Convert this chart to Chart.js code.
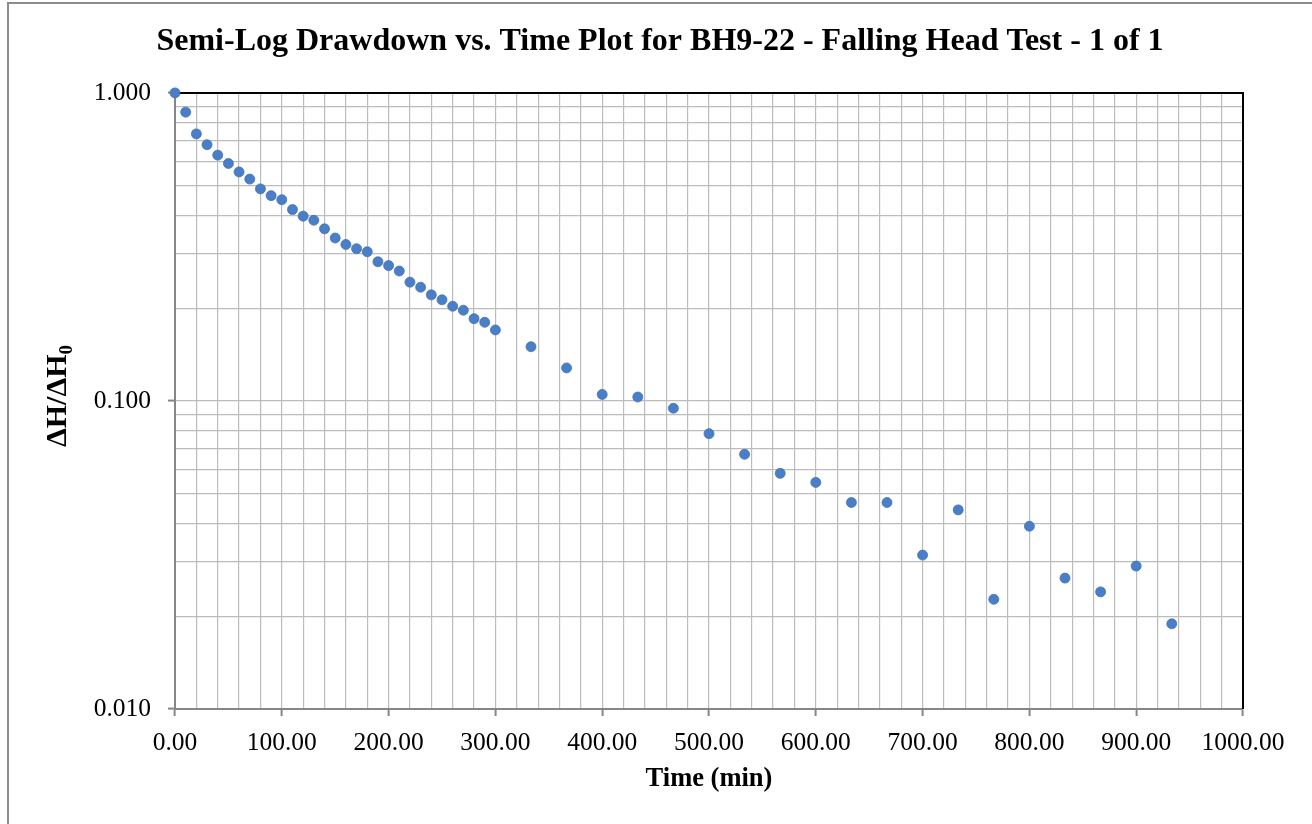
<!DOCTYPE html>
<html>
<head>
<meta charset="utf-8">
<script src="https://cdn.jsdelivr.net/npm/chart.js@4/dist/chart.umd.min.js"></script>
<style>
  html, body { margin: 0; padding: 0; background: #fff; }
  #wrap { width: 1312px; height: 824px; position: relative; }
</style>
</head>
<body>
<div id="wrap"><canvas id="drawdownChart"></canvas></div>
<script>
// falling head test readings: elapsed time (min) and normalised head ratio
const timeMin = [
    0, 10, 20, 30, 40, 50, 60, 70, 80, 90,
    100, 110, 120, 130, 140, 150, 160, 170, 180, 190,
    200, 210, 220, 230, 240, 250, 260, 270, 280, 290,
    300, 333.33, 366.67, 400, 433.33, 466.67, 500, 533.33, 566.67, 600,
    633.33, 666.67, 700, 733.33, 766.67, 800, 833.33, 866.67, 900, 933.33
];
const headRatio = [
    1.000, 0.866, 0.736, 0.679, 0.628, 0.590, 0.554, 0.525, 0.488, 0.464,
    0.450, 0.418, 0.398, 0.386, 0.362, 0.338, 0.322, 0.312, 0.305, 0.283,
    0.275, 0.264, 0.243, 0.234, 0.221, 0.213, 0.203, 0.197, 0.185, 0.180,
    0.170, 0.150, 0.128, 0.105, 0.103, 0.0947, 0.0783, 0.0671, 0.0582, 0.0544,
    0.0468, 0.0468, 0.0316, 0.0443, 0.0227, 0.0392, 0.0266, 0.0240, 0.0291, 0.0189
];
const yLabelTicks = [0.01, 0.1, 1];
const xMajorStep = 100;

const serif = "'Liberation Serif', 'Times New Roman', serif";
const gridGray = '#bcbcbc';
const axisGray = '#868686';

function isLabelTick(v) {
    return yLabelTicks.some(t => Math.abs(t - v) / t < 1e-6);
}

// outer frame, black top/right edges of the plot and the rotated y title
const decorPlugin = {
    id: 'decor',
    beforeDraw(chart) {
        const c = chart.ctx;
        c.save();
        c.strokeStyle = '#8c8c8c';
        c.lineWidth = 2;
        c.beginPath();
        c.moveTo(8, chart.height);
        c.lineTo(8, 3);
        c.lineTo(chart.width, 3);
        c.stroke();
        c.restore();
    },
    beforeDatasetsDraw(chart) {
        const a = chart.chartArea;
        const c = chart.ctx;
        c.save();
        c.strokeStyle = '#000';
        c.lineWidth = 2;
        c.beginPath();
        c.moveTo(a.left, a.top);
        c.lineTo(a.right, a.top);
        c.lineTo(a.right, a.bottom);
        c.stroke();
        c.restore();
    },
    afterDraw(chart) {
        const c = chart.ctx;
        c.save();
        // y axis title with subscript
        c.translate(58, 396);
        c.rotate(-Math.PI / 2);
        c.fillStyle = '#000';
        c.textBaseline = 'middle';
        c.textAlign = 'left';
        const main = '\u0394H/\u0394H';
        c.font = 'bold 30px ' + serif;
        const wMain = c.measureText(main).width;
        c.font = 'bold 19px ' + serif;
        const wSub = c.measureText('0').width;
        const x0 = -(wMain + wSub) / 2;
        c.font = 'bold 30px ' + serif;
        c.fillText(main, x0, 0);
        c.font = 'bold 19px ' + serif;
        c.fillText('0', x0 + wMain, 9);
        c.restore();
    }
};

const ctx = document.getElementById('drawdownChart');
new Chart(ctx, {
    type: 'scatter',
    data: {
        datasets: [{
            label: 'BH9-22',
            data: timeMin.map((t, i) => ({ x: t, y: headRatio[i] })),
            backgroundColor: '#4a7fc8',
            borderColor: '#3f70b4',
            borderWidth: 0.75,
            pointRadius: 5,
            pointHoverRadius: 5,
            clip: false
        }]
    },
    options: {
        responsive: true,
        maintainAspectRatio: false,
        animation: false,
        layout: {
            padding: { left: 77, right: 69, top: 0, bottom: 0 }
        },
        scales: {
            x: {
                type: 'linear',
                min: 0,
                max: 1000,
                afterFit: function (scale) { scale.height = 115; },
                ticks: {
                    stepSize: 20,
                    autoSkip: false,
                    maxRotation: 0,
                    padding: 12,
                    color: '#000',
                    font: { family: serif, size: 25.5 },
                    callback: function (value) {
                        return value % xMajorStep === 0 ? value.toFixed(2) : '';
                    }
                },
                grid: {
                    color: gridGray,
                    lineWidth: 1.2,
                    tickLength: 7,
                    tickColor: function (c) {
                        return c.tick && c.tick.value % xMajorStep === 0 ? axisGray : 'rgba(0,0,0,0)';
                    },
                    tickWidth: 2
                },
                border: { display: true, color: axisGray, width: 2 },
                title: {
                    display: true,
                    text: 'Time (min)',
                    color: '#000',
                    font: { family: serif, size: 26.5, weight: 'bold' },
                    padding: { top: 0, bottom: 29 }
                }
            },
            y: {
                type: 'logarithmic',
                min: 0.01,
                max: 1,
                afterFit: function (scale) { scale.width = 98; },
                afterBuildTicks: function (scale) {
                    const ticks = [];
                    for (let e = -2; e <= 0; e++) {
                        for (let m = 1; m <= 9; m++) {
                            const v = m * Math.pow(10, e);
                            if (v <= 1.0000001) ticks.push({ value: v });
                        }
                    }
                    scale.ticks = ticks;
                },
                ticks: {
                    autoSkip: false,
                    padding: 17,
                    color: '#000',
                    font: { family: serif, size: 25.5 },
                    callback: function (value) {
                        return isLabelTick(value) ? value.toFixed(3) : '';
                    }
                },
                grid: {
                    color: gridGray,
                    lineWidth: 1.2,
                    tickLength: 7,
                    tickColor: function (c) {
                        return c.tick && isLabelTick(c.tick.value) ? axisGray : 'rgba(0,0,0,0)';
                    },
                    tickWidth: 2
                },
                border: { display: true, color: axisGray, width: 2 },
                title: { display: false }
            }
        },
        plugins: {
            legend: { display: false },
            tooltip: { enabled: false },
            title: {
                display: true,
                text: 'Semi-Log Drawdown vs. Time Plot for BH9-22 - Falling Head Test - 1 of 1',
                color: '#000',
                font: { family: serif, size: 32, weight: 'bold', lineHeight: 1.2 },
                padding: { top: 23, bottom: 31.5 }
            }
        }
    },
    plugins: [decorPlugin]
});
</script>
</body>
</html>
